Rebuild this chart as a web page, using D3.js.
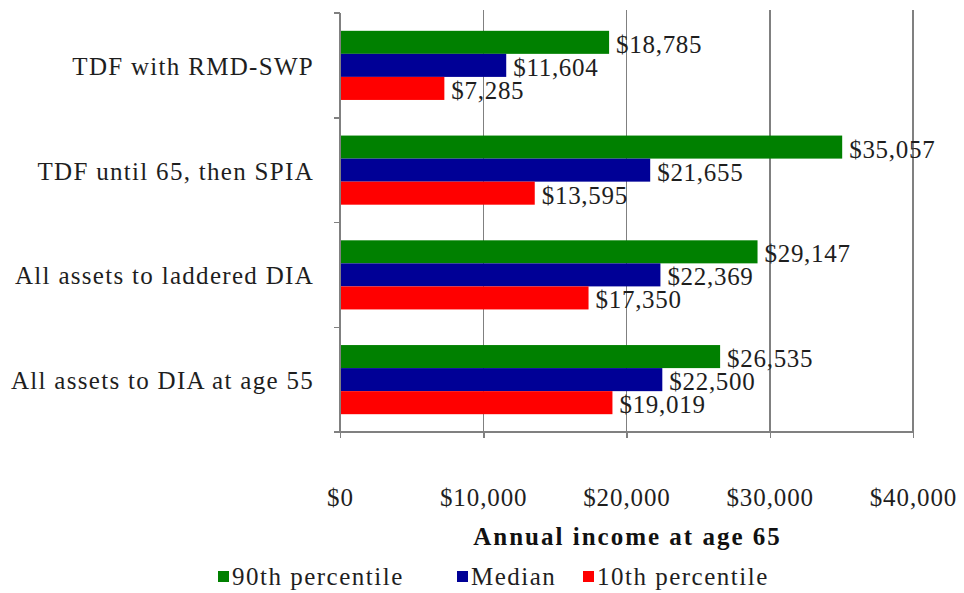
<!DOCTYPE html>
<meta charset="utf-8">
<title>Annual income at age 65</title>
<style>

body {
  margin: 0;
  background: #fff;
  font-family: "Liberation Serif", "DejaVu Serif", serif;
}

svg text {
  font-family: "Liberation Serif", "DejaVu Serif", serif;
  fill: #1e1e1e;
}

.axis path,
.axis line {
  fill: none;
  stroke: #808080;
  stroke-width: 1.5px;
  shape-rendering: crispEdges;
}

.grid line {
  stroke: #808080;
  stroke-width: 1.5px;
  shape-rendering: crispEdges;
}

.label {
  font-size: 25px;
  letter-spacing: 0.7px;
}

</style>
<body>
<script src="https://d3js.org/d3.v7.min.js"></script>
<script>

var strategies = ["TDF with RMD-SWP", "TDF until 65, then SPIA", "All assets to laddered DIA", "All assets to DIA at age 55"];
var seriesNames = ["90th percentile", "Median", "10th percentile"];
var seriesColors = ["#008000", "#000096", "#ff0000"];
var p90 = [18785, 35057, 29147, 26535];
var median = [11604, 21655, 22369, 22500];
var p10 = [7285, 13595, 17350, 19019];
var xTicks = [0, 10000, 20000, 30000, 40000];

var width = 964,
    height = 593;

var margin = {top: 13, right: 51, bottom: 161, left: 340},
    w = width - margin.left - margin.right,
    h = height - margin.top - margin.bottom;

var svg = d3.select("body").append("svg")
    .attr("width", width)
    .attr("height", height);

var g = svg.append("g")
    .attr("transform", "translate(" + margin.left + "," + margin.top + ")");

var x = d3.scaleLinear()
    .domain([0, 40000])
    .range([0, w]);

var y = d3.scaleBand()
    .domain(strategies)
    .range([0, h])
    .paddingInner(0.34)
    .paddingOuter(0.17);

var ySub = d3.scaleBand()
    .domain(seriesNames)
    .range([0, y.bandwidth()]);

var color = d3.scaleOrdinal()
    .domain(seriesNames)
    .range(seriesColors);

var fmt = function(v) { return "$" + d3.format(",")(v); };

// vertical gridlines
g.append("g")
    .attr("class", "grid")
  .selectAll("line")
    .data(xTicks.slice(1))
  .enter().append("line")
    .attr("x1", function(d) { return x(d); })
    .attr("x2", function(d) { return x(d); })
    .attr("y1", -3)
    .attr("y2", h);

var data = [];
strategies.forEach(function(s, i) {
  data.push({cat: s, series: seriesNames[0], value: p90[i]});
  data.push({cat: s, series: seriesNames[1], value: median[i]});
  data.push({cat: s, series: seriesNames[2], value: p10[i]});
});

g.selectAll(".bar")
    .data(data)
  .enter().append("rect")
    .attr("class", "bar")
    .attr("x", x(0))
    .attr("y", function(d) { return y(d.cat) + ySub(d.series); })
    .attr("width", function(d) { return x(d.value) - x(0); })
    .attr("height", ySub.bandwidth())
    .style("fill", function(d) { return color(d.series); });

g.selectAll(".label")
    .data(data)
  .enter().append("text")
    .attr("class", "label")
    .attr("x", function(d) { return x(d.value) + 7; })
    .attr("y", function(d) { return y(d.cat) + ySub(d.series) + ySub.bandwidth() / 2; })
    .attr("dy", ".42em")
    .text(function(d) { return fmt(d.value); });

// x axis
var xAxis = d3.axisBottom(x)
    .tickValues(xTicks)
    .tickSize(6)
    .tickPadding(50)
    .tickFormat(fmt);

g.append("g")
    .attr("class", "x axis")
    .attr("transform", "translate(0," + h + ")")
    .call(xAxis)
    .call(function(a) { a.select(".domain").attr("d", "M0,0H" + w); })
  .selectAll("text")
    .attr("font-family", null)
    .style("font-size", "25px")
    .style("letter-spacing", "0.9px")
    .style("fill", "#1e1e1e");

// y axis: ticks sit between categories
var yAxisG = g.append("g")
    .attr("class", "y axis");

yAxisG.append("line")
    .attr("x1", 0).attr("x2", 0)
    .attr("y1", 0).attr("y2", h);

var step = y.step();
yAxisG.selectAll(".ytick")
    .data(d3.range(strategies.length + 1))
  .enter().append("line")
    .attr("class", "ytick")
    .attr("x1", -6).attr("x2", 0)
    .attr("y1", function(i) { return i * step; })
    .attr("y2", function(i) { return i * step; });

yAxisG.selectAll(".cat")
    .data(strategies)
  .enter().append("text")
    .attr("class", "cat")
    .attr("x", -26)
    .attr("y", function(d) { return y(d) + y.bandwidth() / 2; })
    .attr("dy", ".38em")
    .style("text-anchor", "end")
    .style("font-size", "25px")
    .style("letter-spacing", "1.3px")
    .text(function(d) { return d; });

// axis title
g.append("text")
    .attr("x", w / 2 + 1)
    .attr("y", h + 113)
    .style("text-anchor", "middle")
    .style("font-size", "25px")
    .style("font-weight", "bold")
    .style("letter-spacing", "2px")
    .style("fill", "#111")
    .text("Annual income at age 65");

// legend
var legendX = [218, 457, 583];
var legend = svg.selectAll(".legend")
    .data(seriesNames)
  .enter().append("g")
    .attr("class", "legend")
    .attr("transform", function(d, i) { return "translate(" + legendX[i] + ",571)"; });

legend.append("rect")
    .attr("width", 11)
    .attr("height", 11)
    .style("fill", color);

legend.append("text")
    .attr("x", 14)
    .attr("y", 14)
    .style("font-size", "25px")
    .style("letter-spacing", "1.5px")
    .text(function(d) { return d; });

</script>
</body>
